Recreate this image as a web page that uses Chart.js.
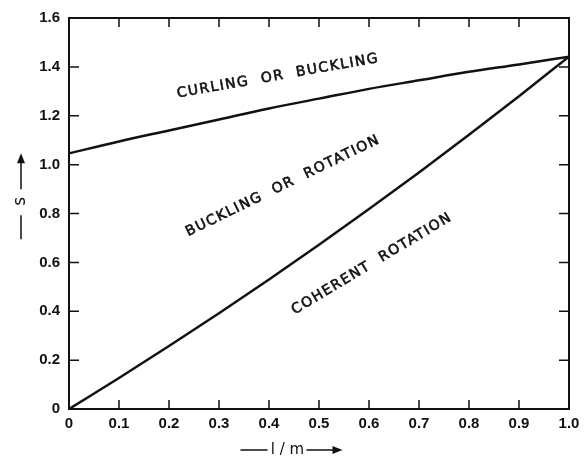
<!DOCTYPE html>
<html>
<head>
<meta charset="utf-8">
<script src="https://cdn.jsdelivr.net/npm/chart.js@4.4.1/dist/chart.umd.min.js"></script>
<style>
  html, body { margin: 0; padding: 0; background: #fff; }
</style>
</head>
<body>
<canvas id="modeChart" width="586" height="460"></canvas>
<script>
// 1/m along the bottom axis
const invM = [0, 0.1, 0.2, 0.3, 0.4, 0.5, 0.6, 0.7, 0.8, 0.9, 1.0];
// upper boundary (curling / buckling)
const curlingEdge = [1.046, 1.095, 1.14, 1.185, 1.23, 1.27, 1.31, 1.345, 1.38, 1.41, 1.442];
// lower boundary (coherent rotation)
const coherentEdge = [0, 0.127, 0.258, 0.392, 0.53, 0.672, 0.818, 0.968, 1.122, 1.28, 1.442];

const xTicks = [0, 0.1, 0.2, 0.3, 0.4, 0.5, 0.6, 0.7, 0.8, 0.9, 1.0];
const yTicks = [0, 0.2, 0.4, 0.6, 0.8, 1.0, 1.2, 1.4, 1.6];

const regionNames = ['CURLING  OR  BUCKLING', 'BUCKLING  OR  ROTATION', 'COHERENT  ROTATION'];

const INK = '#111';

function toPoints(ys) {
    return invM.map((x, i) => ({ x: x, y: ys[i] }));
}

function fmt(v) {
    return v === 0 ? '0' : v.toFixed(1);
}

function arrowHead(ctx, x, y, dir) {
    // dir: 'right' or 'up'
    ctx.beginPath();
    if (dir === 'right') {
        ctx.moveTo(x, y);
        ctx.lineTo(x - 10, y - 4);
        ctx.lineTo(x - 10, y + 4);
    } else {
        ctx.moveTo(x, y);
        ctx.lineTo(x - 4, y + 10);
        ctx.lineTo(x + 4, y + 10);
    }
    ctx.closePath();
    ctx.fill();
}

const framePlugin = {
    id: 'frame',
    afterDraw(chart) {
        const ctx = chart.ctx;
        const a = chart.chartArea;
        const xs = chart.scales.x;
        const ys = chart.scales.y;
        ctx.save();
        ctx.strokeStyle = INK;
        ctx.fillStyle = INK;

        // box
        ctx.lineWidth = 2;
        ctx.strokeRect(a.left, a.top, a.right - a.left, a.bottom - a.top);

        // inward ticks on all four sides
        ctx.lineWidth = 1.5;
        ctx.beginPath();
        xTicks.slice(1, -1).forEach(v => {
            const px = xs.getPixelForValue(v);
            ctx.moveTo(px, a.bottom); ctx.lineTo(px, a.bottom - 9);
            ctx.moveTo(px, a.top); ctx.lineTo(px, a.top + 9);
        });
        yTicks.slice(1, -1).forEach(v => {
            const py = ys.getPixelForValue(v);
            ctx.moveTo(a.left, py); ctx.lineTo(a.left + 10, py);
            ctx.moveTo(a.right, py); ctx.lineTo(a.right - 10, py);
        });
        ctx.stroke();

        // region names
        const spots = [
            { x: 0.418, y: 1.362, deg: -10 },
            { x: 0.428, y: 0.913, deg: -26 },
            { x: 0.606, y: 0.594, deg: -31 }
        ];
        ctx.font = '14px "DejaVu Sans"';
        ctx.letterSpacing = '1.5px';
        ctx.textAlign = 'center';
        ctx.textBaseline = 'middle';
        ctx.lineWidth = 0.6;
        regionNames.forEach((name, i) => {
            const s = spots[i];
            ctx.save();
            ctx.translate(xs.getPixelForValue(s.x), ys.getPixelForValue(s.y));
            ctx.rotate(s.deg * Math.PI / 180);
            ctx.fillText(name, 0, 0);
            ctx.strokeText(name, 0, 0);
            ctx.restore();
        });
        ctx.letterSpacing = '0px';

        // x title: —— l / m ——>
        const ty = a.bottom + 41;
        const tx = xs.getPixelForValue(0.445);
        ctx.lineWidth = 1.5;
        ctx.beginPath();
        ctx.moveTo(tx - 51, ty); ctx.lineTo(tx - 24, ty);
        ctx.moveTo(tx + 15, ty); ctx.lineTo(tx + 44, ty);
        ctx.stroke();
        arrowHead(ctx, tx + 51, ty, 'right');
        ctx.font = '15px "DejaVu Sans"';
        ctx.fillText('l / m', tx - 4, ty);

        // y title: — s ->  (reads upward)
        const vx = 21;
        const vy = ys.getPixelForValue(0.85);
        ctx.beginPath();
        ctx.moveTo(vx, vy + 38); ctx.lineTo(vx, vy + 14);
        ctx.moveTo(vx, vy - 12); ctx.lineTo(vx, vy - 40);
        ctx.stroke();
        arrowHead(ctx, vx, vy - 48, 'up');
        ctx.save();
        ctx.translate(vx, vy);
        ctx.rotate(-Math.PI / 2);
        ctx.font = '17px "DejaVu Sans"';
        ctx.fillText('s', 0, 0);
        ctx.restore();

        ctx.restore();
    }
};

new Chart(document.getElementById('modeChart'), {
    type: 'line',
    data: {
        datasets: [
            {
                label: 'curling boundary',
                data: toPoints(curlingEdge),
                borderColor: INK,
                borderWidth: 2.5,
                pointRadius: 0,
                cubicInterpolationMode: 'monotone'
            },
            {
                label: 'coherent boundary',
                data: toPoints(coherentEdge),
                borderColor: INK,
                borderWidth: 2.5,
                pointRadius: 0,
                cubicInterpolationMode: 'monotone'
            }
        ]
    },
    options: {
        responsive: false,
        animation: false,
        layout: { padding: { top: 13, right: 17, left: 0, bottom: 0 } },
        plugins: {
            legend: { display: false },
            tooltip: { enabled: false }
        },
        scales: {
            x: {
                type: 'linear',
                min: 0,
                max: 1,
                afterBuildTicks: s => { s.ticks = xTicks.map(v => ({ value: v })); },
                afterFit: s => { s.height = 51; },
                grid: { display: false, drawTicks: false },
                border: { display: false },
                ticks: {
                    padding: 6,
                    color: INK,
                    font: { family: 'Liberation Sans', size: 15, weight: 'bold' },
                    callback: v => fmt(v)
                }
            },
            y: {
                type: 'linear',
                min: 0,
                max: 1.6,
                afterBuildTicks: s => { s.ticks = yTicks.map(v => ({ value: v })); },
                afterFit: s => { s.width = 69; },
                grid: { display: false, drawTicks: false },
                border: { display: false },
                ticks: {
                    padding: 9,
                    color: INK,
                    font: { family: 'Liberation Sans', size: 15, weight: 'bold' },
                    callback: v => fmt(v)
                }
            }
        }
    },
    plugins: [framePlugin]
});
</script>
</body>
</html>
